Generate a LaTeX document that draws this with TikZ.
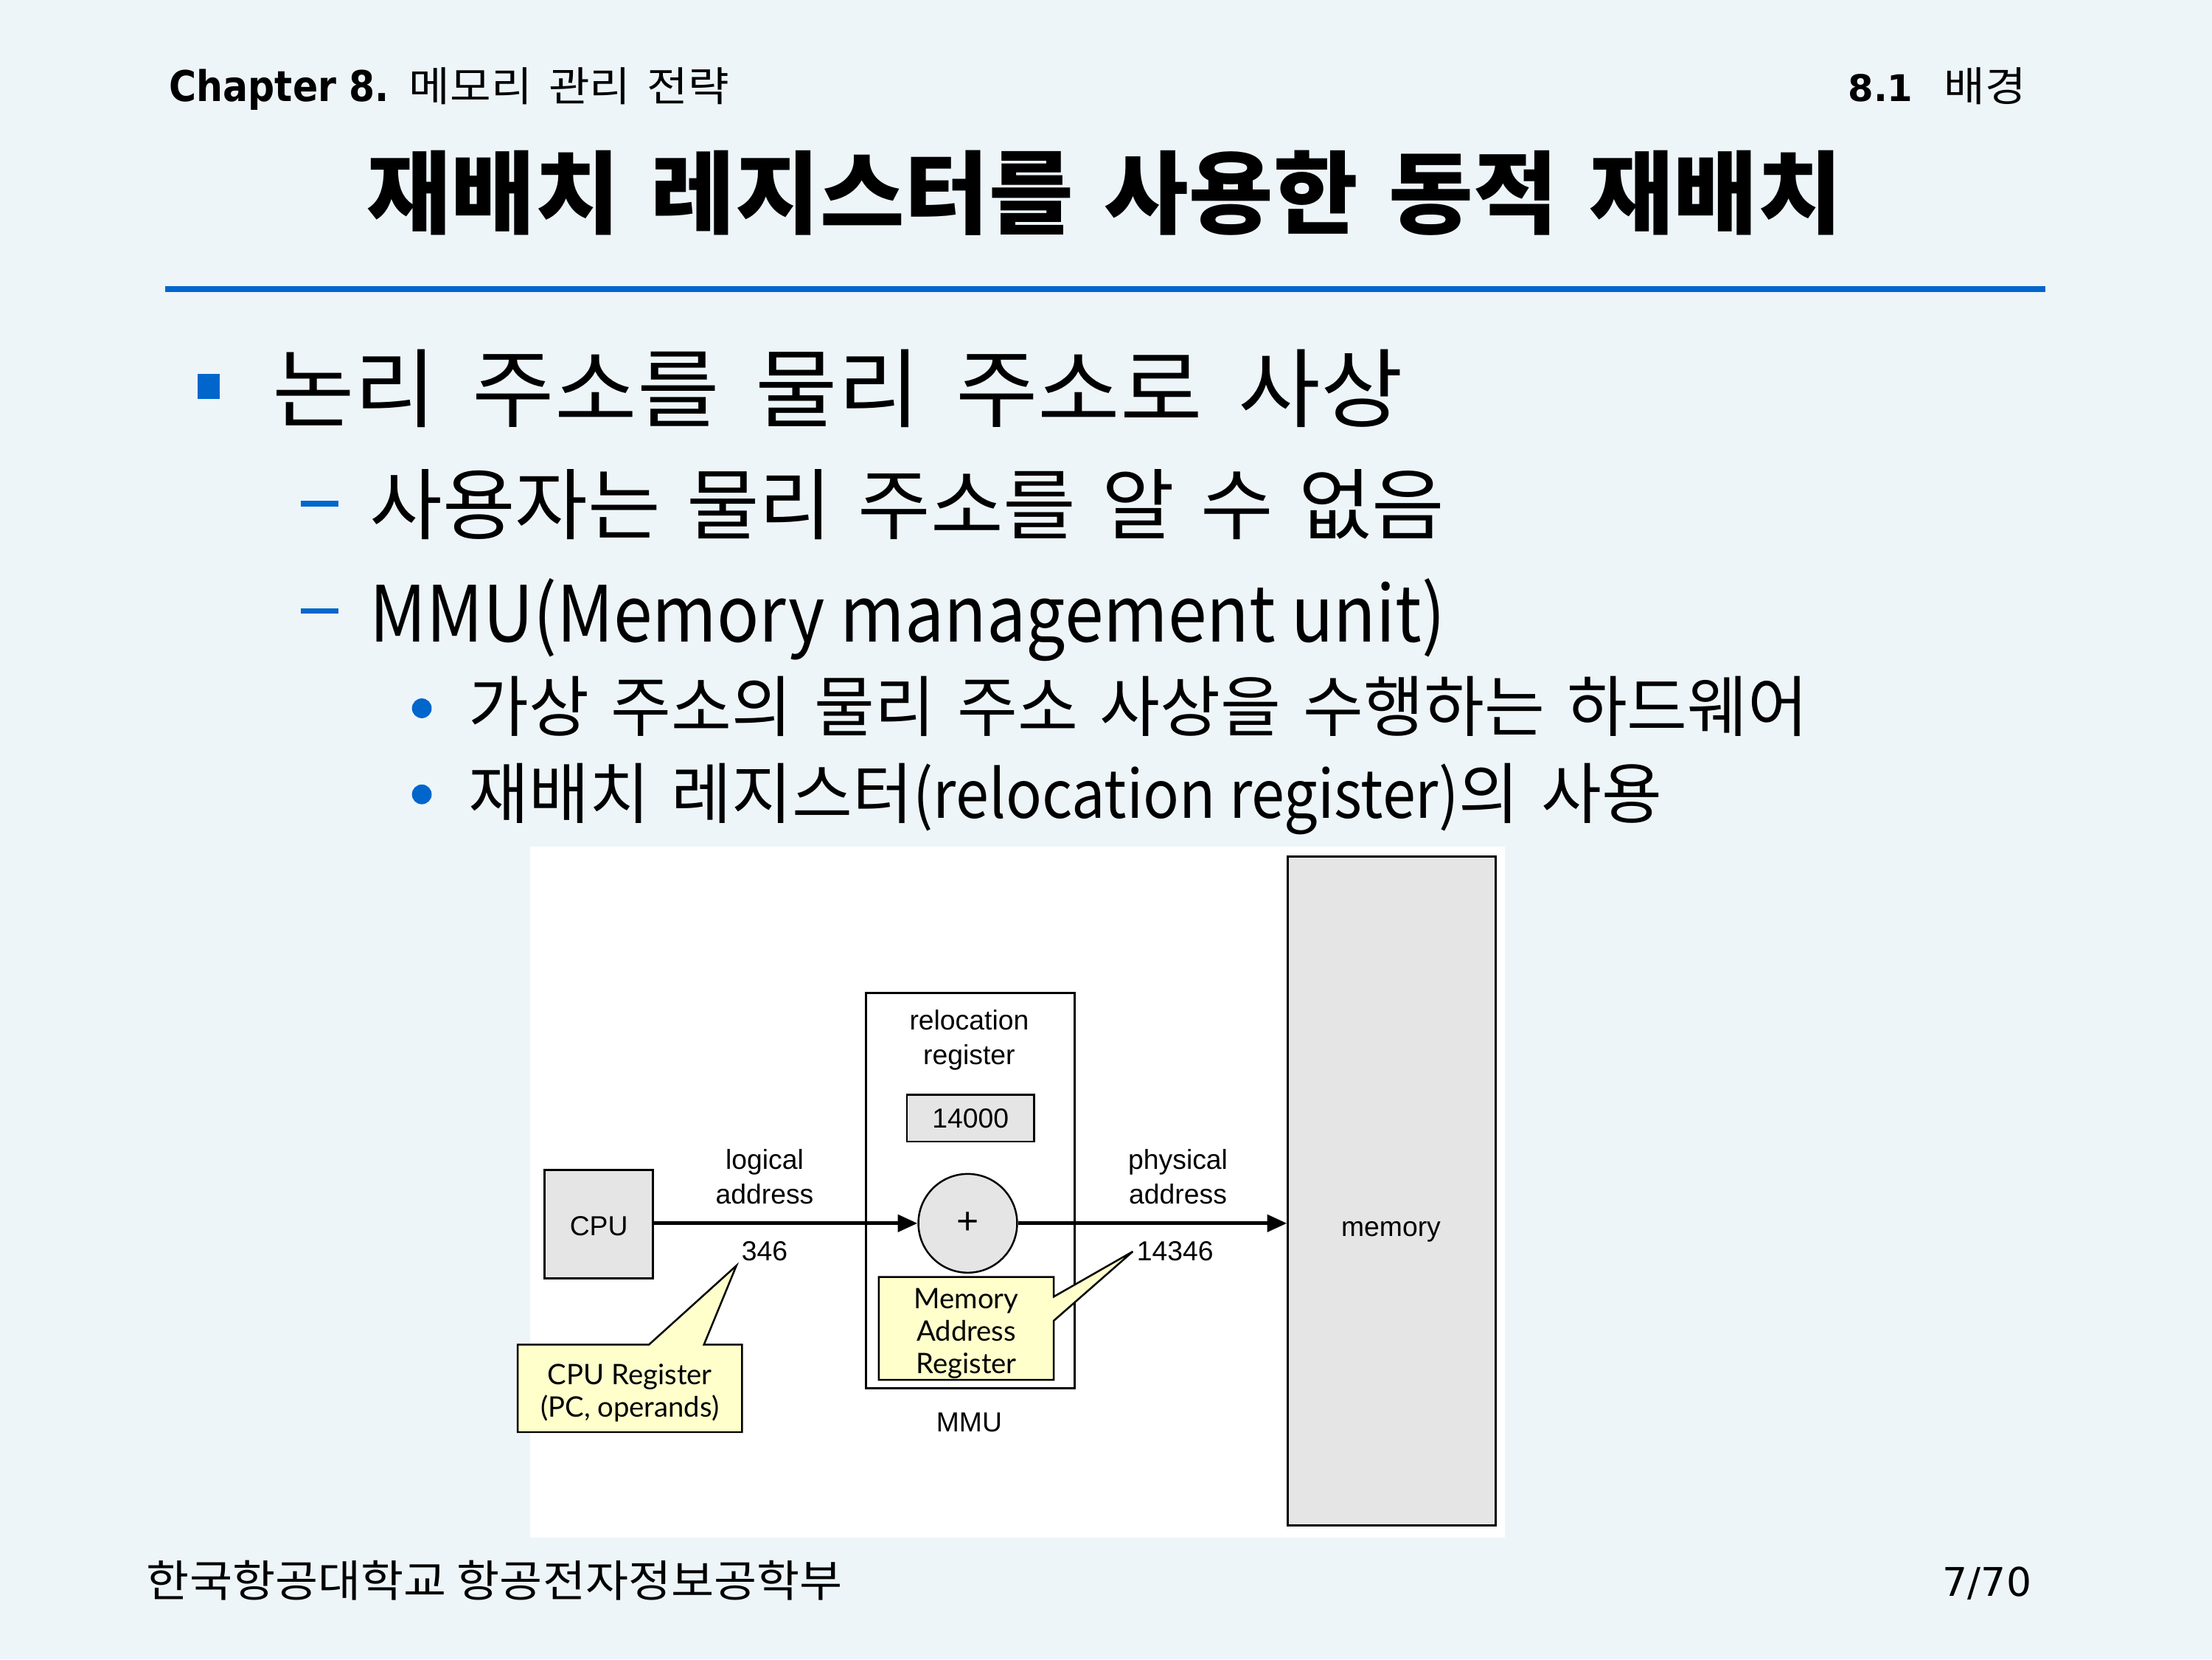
\documentclass[tikz,border=0pt]{standalone}
\usepackage{fontspec}
\usetikzlibrary{arrows.meta}
\setmainfont{Noto Sans CJK KR}
% Korean families, each with its own width and word spacing
\newfontfamily\krtitle[FakeStretch=1.017,WordSpace=1.48]{Noto Sans CJK KR}
\newfontfamily\krhead[FakeStretch=1.09,WordSpace=1.65]{Noto Sans CJK KR}
\newfontfamily\kronefont[FakeStretch=1.04,WordSpace=1.78]{Noto Sans CJK KR}
\newfontfamily\krtwofont[FakeStretch=1.02,WordSpace=1.45]{Noto Sans CJK KR}
\newfontfamily\krthreefont[FakeStretch=0.99,WordSpace=1.5]{Noto Sans CJK KR}
\newfontfamily\krfoot[FakeStretch=1.065]{Noto Sans CJK KR}
% Latin text inside the list
\newfontfamily\latbody[FakeStretch=0.9]{Noto Sans CJK KR}
% header, figure and note faces
\newfontfamily\latinhead[FakeStretch=0.88]{DejaVu Sans}
\newfontfamily\latinwide{DejaVu Sans}
\newfontfamily\helv{Liberation Sans}
\newfontfamily\notefont{Lato}

\definecolor{slidebg}{RGB}{237,245,249}
\definecolor{slideblue}{RGB}{0,102,204}
\definecolor{boxgray}{RGB}{229,229,229}
\definecolor{noteyellow}{RGB}{255,255,204}

\newcommand{\fs}[1]{\fontsize{#1}{1.25\dimexpr#1pt\relax}\selectfont}

\tikzset{
  txt/.style={inner sep=0pt, outer sep=0pt},
  diag/.style={txt, font=\helv\fontsize{19.5}{24.5}\selectfont, align=center},
  note/.style={txt, font=\notefont\fontsize{20}{23}\selectfont, align=center},
  graybox/.style={draw=black, fill=boxgray, line width=1.6pt, inner sep=0pt},
  flow/.style={line width=2.6pt, -{Triangle[length=14pt,width=12pt]}},
  callout/.style={draw=black, fill=noteyellow, line width=1.3pt, line join=miter},
}

\begin{document}
\begin{tikzpicture}[x=1pt,y=-1pt]
  % page
  \fill[slidebg] (0,0) rectangle (1568,1176);
  \useasboundingbox (0,0) rectangle (1568,1176);

  % running header
  \node[txt, anchor=base west] (chap) at (120,72) {\latinhead\fs{30}\bfseries Chapter 8.};
  \node[txt, anchor=base west] (chapname) at (290,72) {\krhead\fs{29}메모리 관리 전략};
  \node[txt, anchor=base west] (secnum) at (1310,72) {\latinwide\fs{26}\bfseries 8.1};
  \node[txt, anchor=base west] (secname) at (1378,72) {\krhead\fs{29}배경};

  % title and rule
  \node[txt] (title) at (783,137) {\krtitle\fs{64}\bfseries 재배치 레지스터를 사용한 동적 재배치};
  \fill[slideblue] (117,203) rectangle (1450,207);

  % bullet list
  \node[txt, fill=slideblue, minimum width=16pt, minimum height=18pt] (b1) at (148,274) {};
  \node[txt, anchor=base west] (l1) at (193,298) {\kronefont\fs{61}논리 주소를 물리 주소로 사상};

  \node[txt, fill=slideblue, minimum width=27pt, minimum height=4pt] (d1) at (226.5,357) {};
  \node[txt, anchor=base west] (l2a) at (262,378) {\krtwofont\fs{55}사용자는 물리 주소를 알 수 없음};

  \node[txt, fill=slideblue, minimum width=27pt, minimum height=4pt] (d2) at (226.5,433) {};
  \node[txt, anchor=base west] (l2b) at (262,455) {\latbody\fs{55}MMU(Memory management unit)};

  \node[txt, circle, fill=slideblue, minimum size=14pt] (c1) at (299,502) {};
  \node[txt, anchor=base west] (l3a) at (332,518) {\krthreefont\fs{47}가상 주소의 물리 주소 사상을 수행하는 하드웨어};

  \node[txt, circle, fill=slideblue, minimum size=14pt] (c2) at (299,563) {};
  \node[txt, anchor=base west] (l3b) at (332,580) {\fs{47}{\krthreefont 재배치 레지스터}{\latbody(relocation register)}{\krthreefont 의 사용}};

  % figure panel
  \fill[white] (376,600) rectangle (1067,1090);

  \node[graybox, minimum width=77pt, minimum height=77pt] (cpu) at (424.5,867.5) {};
  \node[diag] (cputxt) at (424.5,869) {CPU};

  \node[draw=black, fill=white, line width=1.6pt, minimum width=148pt, minimum height=280pt, inner sep=0pt] (mmu) at (688,844) {};
  \node[diag] (reloc) at (687,737) {relocation\\register};
  \node[graybox, line width=1.3pt, minimum width=90pt, minimum height=33pt] (base) at (688,792.5) {};
  \node[diag] (basetxt) at (base.center) {14000};
  \node[graybox, circle, line width=1.3pt, minimum size=70pt] (sum) at (686,867) {};
  \node[diag, font=\helv\fontsize{27}{30}\selectfont] (plus) at (sum.center) {+};
  \node[diag] (mmulbl) at (687,1008) {MMU};

  \node[graybox, minimum width=147pt, minimum height=474pt] (mem) at (986.5,844) {};
  \node[diag] (memtxt) at (986,873) {memory};

  \draw[flow] (cpu.east |- sum.west) -- (sum.west);
  \draw[flow] (sum.east) -- (sum.east -| mem.west);

  \node[diag] (logical) at (542,834) {logical\\address};
  \node[diag] (laddr) at (542,887) {346};
  \node[diag] (physical) at (835,834) {physical\\address};
  \node[diag] (paddr) at (833,887) {14346};

  % callouts
  \coordinate (cputip) at (522,897);
  \coordinate (martip) at (803,887);
  \draw[callout] (367,953) -- (460,953) -- (cputip) -- (499,953) -- (526,953)
       -- (526,1015) -- (367,1015) -- cycle;
  \node[note] (cpureg) at (446.5,987) {CPU Register\\(PC, operands)};
  \draw[callout] (623,905) -- (747,905) -- (747,919) -- (martip) -- (747,936)
       -- (747,978) -- (623,978) -- cycle;
  \node[note] (mar) at (685,945) {Memory\\Address\\Register};

  % footer
  \node[txt, anchor=west] (school) at (104,1120) {\krfoot\fs{31}한국항공대학교 항공전자정보공학부};
  \node[txt, anchor=east] (page) at (1440,1122) {\latinwide\fs{28}7/70};
\end{tikzpicture}
\end{document}
